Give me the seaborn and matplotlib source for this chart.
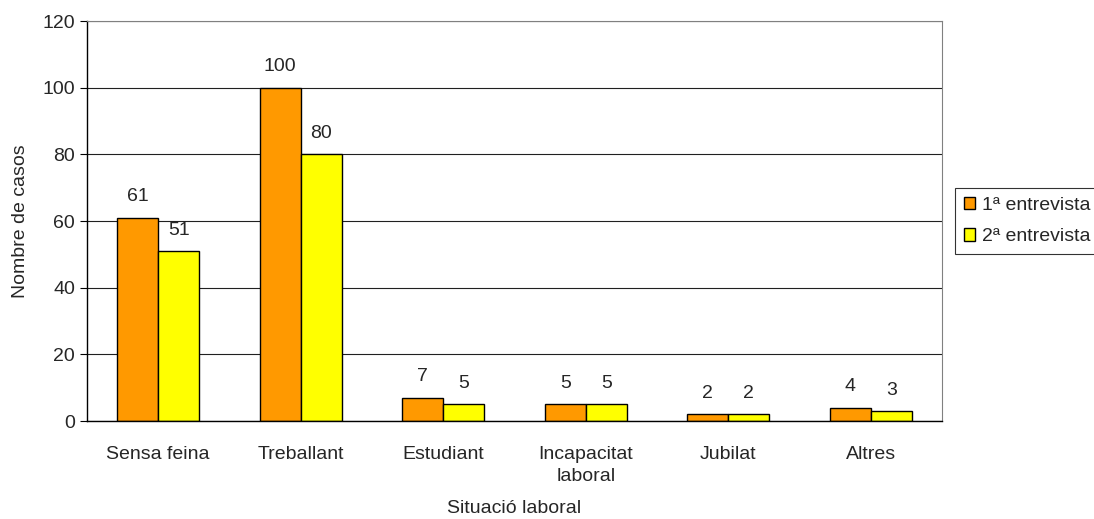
import pandas as pd
import numpy as np
import matplotlib.pyplot as plt
import seaborn as sns

# Dades
categories = ['Sensa feina', 'Treballant', 'Estudiant', 'Incapacitat\nlaboral', 'Jubilat', 'Altres']
entrevista1 = [61, 100, 7, 5, 2, 4]
entrevista2 = [51, 80, 5, 5, 2, 3]
series = ['1ª entrevista', '2ª entrevista']
colors = ['#FF9900', '#FFFF00']

df = pd.DataFrame({
    'Situació': categories * 2,
    'Casos': entrevista1 + entrevista2,
    'Entrevista': [series[0]] * len(categories) + [series[1]] * len(categories),
})

sns.set_style('white')
plt.rcParams['font.family'] = ['Liberation Sans', 'DejaVu Sans']
fs = 14

fig = plt.figure(figsize=(10.94, 5.19), dpi=100)
ax = fig.add_axes([0.0795, 0.1888, 0.7815, 0.7707])

sns.barplot(data=df, x='Situació', y='Casos', hue='Entrevista', palette=colors,
            width=0.575, edgecolor='black', linewidth=1, saturation=1, ax=ax)

for c in ax.containers:
    ax.bar_label(c, padding=9, fontsize=fs)

ax.set_ylim(0, 120)
ax.set_yticks(range(0, 121, 20))
ax.set_xlim(-0.5, 5.5)
ax.yaxis.grid(True, color='#202020', linewidth=0.8)
ax.set_axisbelow(True)

# ticks entre categories
ax.set_xticks(np.arange(-0.5, 6, 1), minor=True)
ax.tick_params(axis='x', which='major', length=0, pad=18, labelsize=fs)
ax.tick_params(axis='x', which='minor', length=5, direction='out', color='black')
ax.tick_params(axis='y', length=5, direction='out', color='black', labelsize=fs, left=True)
for t in ax.get_xticklabels():
    t.set_linespacing(1.4)

for s in ['top', 'right']:
    ax.spines[s].set_color('#808080')
    ax.spines[s].set_linewidth(0.8)
for s in ['left', 'bottom']:
    ax.spines[s].set_color('black')
    ax.spines[s].set_linewidth(1)

ax.set_xlabel('Situació laboral', fontsize=fs, labelpad=11)
ax.set_ylabel('Nombre de casos', fontsize=fs, labelpad=10)

leg = ax.legend(loc='center left', bbox_to_anchor=(1.015, 0.5), fontsize=fs,
                frameon=True, fancybox=False, edgecolor='black', handlelength=0.6,
                handleheight=0.6, handletextpad=0.35, borderpad=0.45, labelspacing=0.75,
                borderaxespad=0)
leg.get_frame().set_linewidth(0.8)

fig.savefig('out.png', dpi=100)
